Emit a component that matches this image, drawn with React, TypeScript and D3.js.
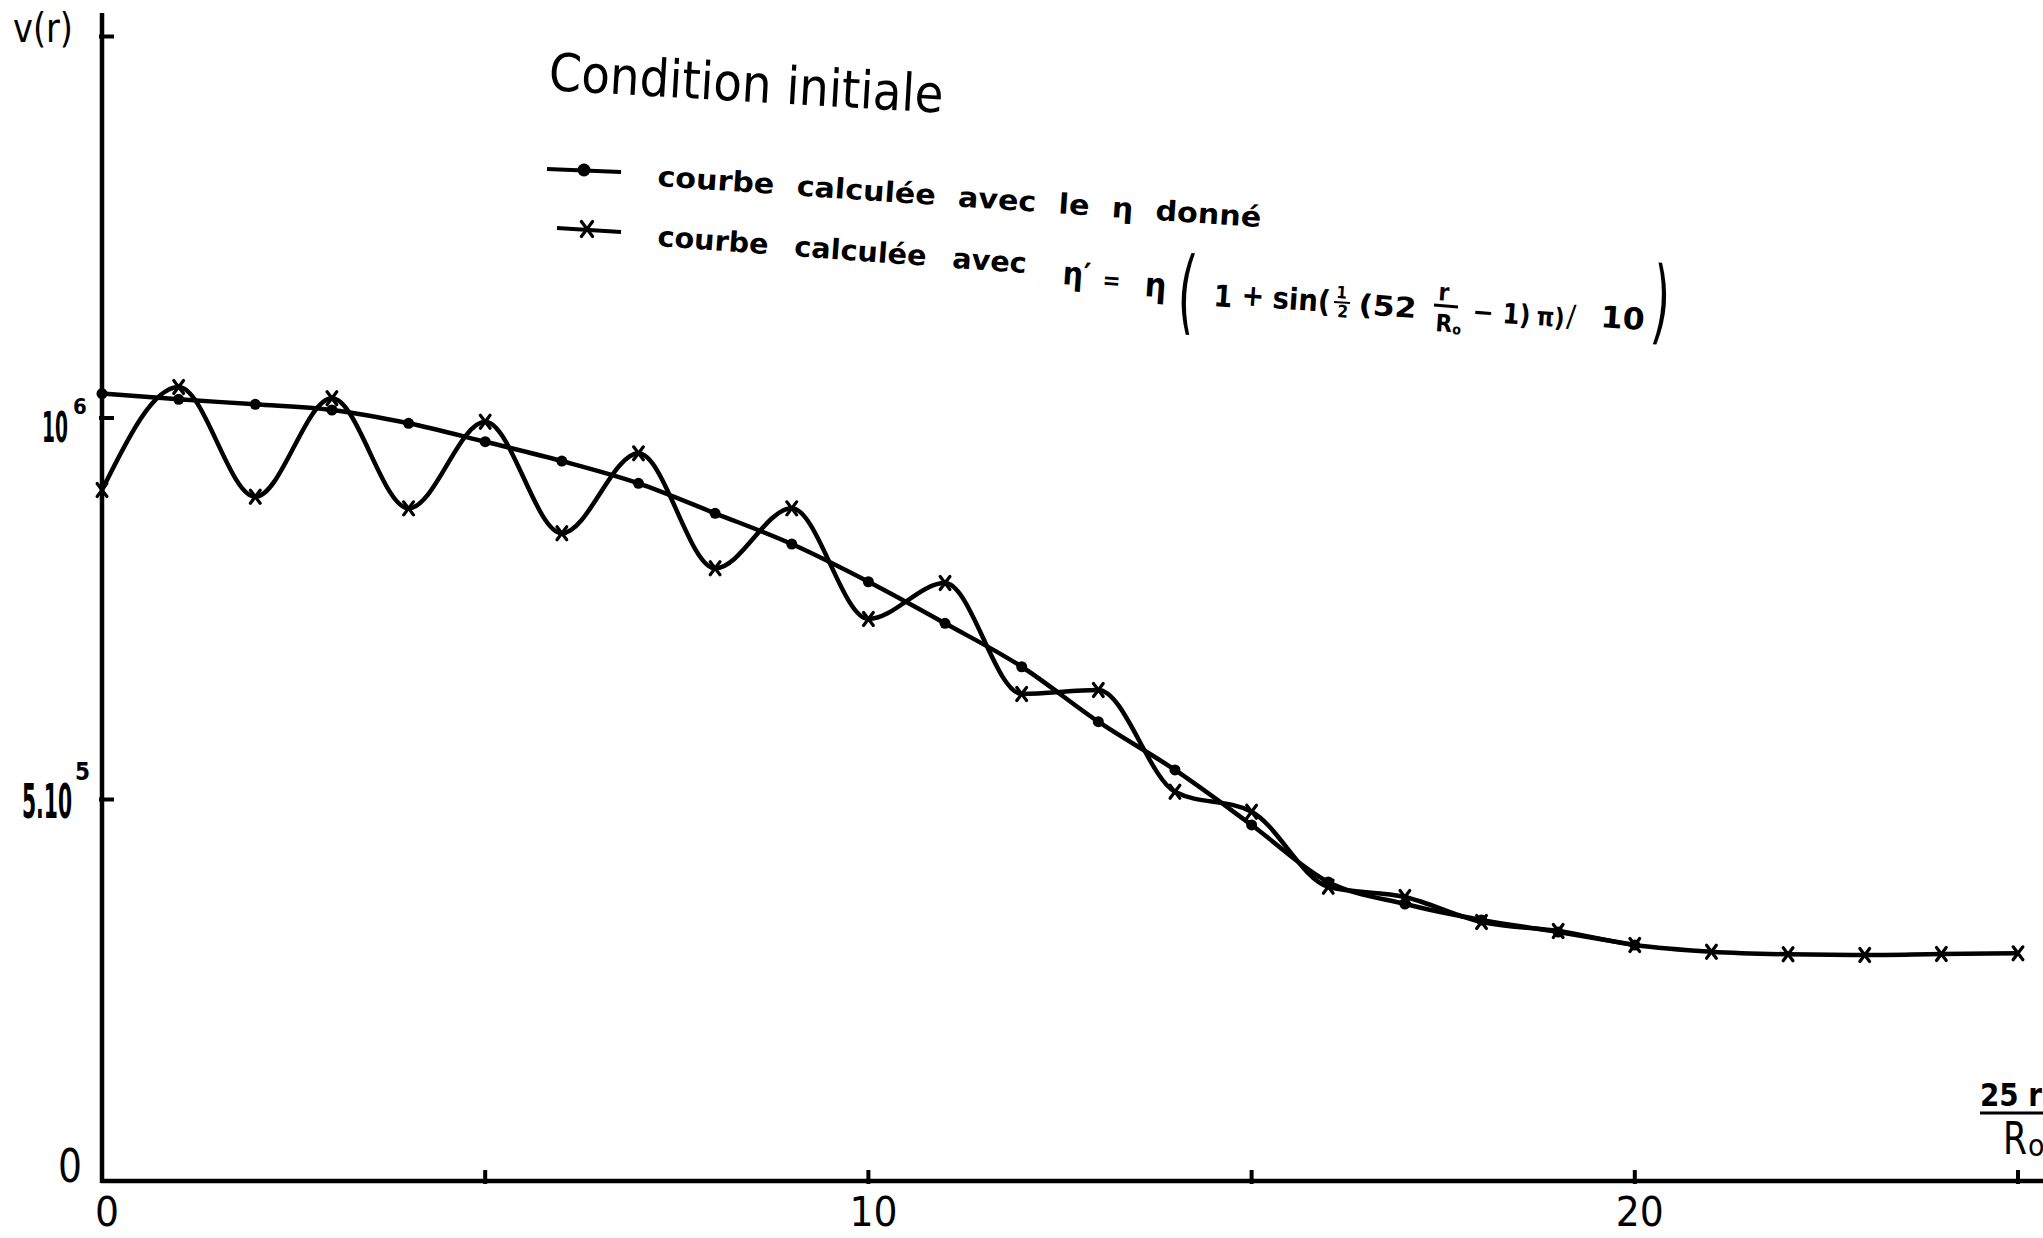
import React from "react";
import * as d3 from "d3";

const W = 2043;
const H = 1238;

// x = 25 r / R0
const rDonne = [0, 1, 2, 3, 4, 5, 6, 7, 8, 9, 10, 11, 12, 13, 14, 15, 16, 17, 18, 19, 20];
const vDonne = [
  1032000, 1024500, 1017900, 1010500, 993100, 968900, 943600, 914400, 875100, 834800,
  785400, 730900, 674000, 602000, 538700, 466600, 391900, 363000, 342100, 326300, 309300,
];

const rPrime = [0, 1, 2, 3, 4, 5, 6, 7, 8, 9, 10, 11, 12, 13, 14, 15, 16, 17, 18, 19, 20, 21, 22, 23, 24, 25];
const vPrime = [
  905600, 1040600, 896800, 1025800, 881600, 995100, 848900, 953700, 803000, 881600,
  736600, 783700, 638300, 643500, 510200, 484000, 385700, 372200, 339400, 327700,
  309300, 300500, 297100, 296200, 297500, 298400,
];

const xTicks = [5, 10, 15, 20, 25];
const xTickLabels = [
  { v: 0, t: "0" },
  { v: 10, t: "10" },
  { v: 20, t: "20" },
];
const yTicks = [500000, 1000000, 1500000];

const FONT = "'DejaVu Sans Condensed', 'Liberation Sans Narrow', 'DejaVu Sans', sans-serif";

function XMark({ cx, cy, s = 6.5 }: { cx: number; cy: number; s?: number }) {
  return (
    <g stroke="#000" strokeWidth={3.2} strokeLinecap="round">
      <line x1={cx - s * 0.75} y1={cy - s} x2={cx + s * 0.75} y2={cy + s} />
      <line x1={cx + s * 0.75} y1={cy - s} x2={cx - s * 0.75} y2={cy + s} />
    </g>
  );
}

export default function App() {
  const x = d3.scaleLinear().domain([0, 25]).range([102, 2018]);
  const y = d3.scaleLinear().domain([0, 1000000]).range([1181, 418]);

  const donne = rDonne.map((r, i) => ({ r, v: vDonne[i] }));
  const prime = rPrime.map((r, i) => ({ r, v: vPrime[i] }));

  const line = d3
    .line<{ r: number; v: number }>()
    .x((d) => x(d.r))
    .y((d) => y(d.v))
    .curve(d3.curveMonotoneX);

  const rot = (deg: number, px: number, py: number) => `rotate(${deg} ${px} ${py})`;

  return (
    <svg
      width={W}
      height={H}
      viewBox={`0 0 ${W} ${H}`}
      style={{ position: "absolute", left: 0, top: 0, background: "#fff" }}
      fontFamily={FONT}
    >
      <rect x={0} y={0} width={W} height={H} fill="#fff" />

      {/* axes */}
      <line x1={x(0)} y1={13} x2={x(0)} y2={y(0) + 2} stroke="#000" strokeWidth={4.5} />
      <line x1={x(0) - 1} y1={y(0)} x2={W} y2={y(0)} stroke="#000" strokeWidth={4.5} />

      {xTicks.map((t) => (
        <line key={"xt" + t} x1={x(t)} y1={y(0) - 11} x2={x(t)} y2={y(0) + 3} stroke="#000" strokeWidth={4} />
      ))}
      {yTicks.map((t) => (
        <line key={"yt" + t} x1={x(0) - 3} y1={y(t)} x2={x(0) + 12} y2={y(t)} stroke="#000" strokeWidth={4} />
      ))}

      {/* axis labels */}
      <text x={13} y={42} fontSize={40} textLength={60} lengthAdjust="spacingAndGlyphs">
        v(r)
      </text>

      <text x={42} y={y(1000000) + 24} fontSize={42} fontWeight="bold" textLength={26} lengthAdjust="spacingAndGlyphs">
        10
      </text>
      <text x={73} y={y(1000000) - 4} fontSize={22} fontWeight="bold">6</text>

      <text x={22} y={y(500000) + 18} fontSize={48} fontWeight="bold" textLength={50} lengthAdjust="spacingAndGlyphs">
        5.10
      </text>
      <text x={75} y={y(500000) - 20} fontSize={24} fontWeight="bold">5</text>

      <text x={58} y={y(0) + 1} fontSize={46} textLength={24} lengthAdjust="spacingAndGlyphs">
        0
      </text>

      {xTickLabels.map((d) => (
        <text
          key={"xl" + d.v}
          x={x(d.v) + 5}
          y={1226}
          fontSize={40}
          textAnchor="middle"
          textLength={d.t.length * 24}
          lengthAdjust="spacingAndGlyphs"
        >
          {d.t}
        </text>
      ))}

      {/* x axis title 25 r / R0 (cut at the edge, as in the original) */}
      <text x={1980} y={1106} fontSize={32} fontWeight="bold" textLength={62} lengthAdjust="spacingAndGlyphs">
        25 r
      </text>
      <line x1={1980} y1={1113} x2={W} y2={1113} stroke="#000" strokeWidth={3} />
      <text x={2003} y={1154} fontSize={44} textLength={24} lengthAdjust="spacingAndGlyphs">
        R
      </text>
      <text x={2028} y={1156} fontSize={30}>o</text>

      {/* curves */}
      <path d={line(donne) || ""} fill="none" stroke="#000" strokeWidth={4.5} strokeLinejoin="round" />
      <path d={line(prime) || ""} fill="none" stroke="#000" strokeWidth={4.5} strokeLinejoin="round" />

      {donne.map((d) => (
        <circle key={"d" + d.r} cx={x(d.r)} cy={y(d.v)} r={5.5} fill="#000" />
      ))}
      {prime.map((d) => (
        <XMark key={"p" + d.r} cx={x(d.r)} cy={y(d.v)} />
      ))}

      {/* title */}
      <text
        x={548}
        y={90}
        fontSize={52}
        transform={rot(3.3, 548, 90)}
        textLength={395}
        lengthAdjust="spacingAndGlyphs"
      >
        Condition initiale
      </text>

      {/* legend */}
      <line x1={547} y1={169} x2={621} y2={172} stroke="#000" strokeWidth={4} />
      <circle cx={584} cy={170} r={6.5} fill="#000" />
      <text
        x={657}
        y={186}
        fontSize={28}
        fontWeight="bold"
        transform={rot(3.9, 657, 186)}
        textLength={605}
        lengthAdjust="spacingAndGlyphs"
        wordSpacing={10}
      >
        courbe calculée avec le η donné
      </text>

      <line x1={557} y1={228} x2={621} y2={232} stroke="#000" strokeWidth={4} />
      <XMark cx={587} cy={229} s={7.5} />
      <text
        x={657}
        y={246}
        fontSize={28}
        fontWeight="bold"
        transform={rot(4.2, 657, 246)}
        textLength={370}
        lengthAdjust="spacingAndGlyphs"
        wordSpacing={14}
      >
        courbe calculée avec
      </text>

      {/* formula */}
      <g fontWeight="bold">
        <text x={1062} y={284} fontSize={32} transform={rot(4, 1062, 284)}>η′</text>
        <text x={1102} y={288} fontSize={24} transform={rot(4, 1102, 288)}>=</text>
        <text x={1144} y={296} fontSize={34} transform={rot(4, 1144, 296)}>η</text>
        <text x={1176} y={322} fontSize={92} fontWeight="normal" transform={`${rot(4, 1176, 322)} translate(1176 322) scale(0.55 1) translate(-1176 -322)`}>(</text>
        <text x={1213} y={306} fontSize={30} transform={rot(4, 1213, 306)}>1</text>
        <text x={1241} y={305} fontSize={30} transform={rot(4, 1241, 305)}>+</text>
        <text x={1272} y={308} fontSize={30} transform={rot(4, 1272, 308)} textLength={58} lengthAdjust="spacingAndGlyphs">sin(</text>
        <text x={1336} y={298} fontSize={17} transform={rot(4, 1336, 298)}>1</text>
        <line x1={1334} y1={302} x2={1350} y2={303} stroke="#000" strokeWidth={2} />
        <text x={1337} y={317} fontSize={17} transform={rot(4, 1337, 317)}>2</text>
        <text x={1358} y={314} fontSize={28} transform={rot(4, 1358, 314)} textLength={58} lengthAdjust="spacingAndGlyphs">(52</text>
        <text x={1438} y={300} fontSize={24} transform={rot(4, 1438, 300)}>r</text>
        <line x1={1434} y1={305} x2={1458} y2={307} stroke="#000" strokeWidth={3} />
        <text x={1435} y={331} fontSize={24} transform={rot(4, 1435, 331)}>R</text>
        <text x={1452} y={334} fontSize={14} transform={rot(4, 1452, 334)}>o</text>
        <text x={1472} y={321} fontSize={28} transform={rot(4, 1472, 321)}>−</text>
        <text x={1502} y={323} fontSize={28} transform={rot(4, 1502, 323)} textLength={28} lengthAdjust="spacingAndGlyphs">1)</text>
        <text x={1536} y={325} fontSize={26} transform={rot(4, 1536, 325)} textLength={28} lengthAdjust="spacingAndGlyphs">π)</text>
        <text x={1566} y={326} fontSize={30} fontWeight="normal" transform={rot(4, 1566, 326)}>/</text>
        <text x={1600} y={327} fontSize={30} transform={rot(4, 1600, 327)} textLength={44} lengthAdjust="spacingAndGlyphs">10</text>
        <text x={1650} y={332} fontSize={92} fontWeight="normal" transform={`${rot(4, 1650, 332)} translate(1650 332) scale(0.55 1) translate(-1650 -332)`}>)</text>
      </g>
    </svg>
  );
}
